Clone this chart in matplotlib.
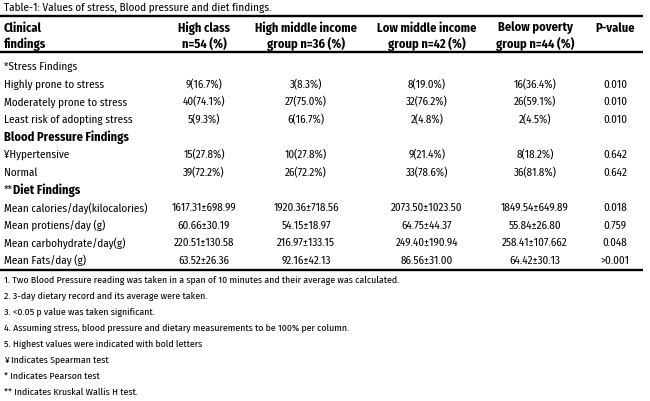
import matplotlib
matplotlib.use("Agg")
import matplotlib.pyplot as plt
from matplotlib import font_manager

# --- table content -------------------------------------------------------
title = "Table-1: Values of stress, Blood pressure and diet findings."

col_headers = [
    ("Clinical", "findings"),
    ("High class", "n=54 (%)"),
    ("High middle income", "group n=36 (%)"),
    ("Low middle income", "group n=42 (%)"),
    ("Below poverty", "group n=44 (%)"),
    ("P-value", ""),
]

# (row label, style of the label)
row_labels = [
    ("*Stress Findings", "plain"),
    ("Highly prone to stress", None),
    ("Moderately prone to stress", None),
    ("Least risk of adopting stress", None),
    ("Blood Pressure Findings", "bold"),
    ("¥Hypertensive", None),
    ("Normal", None),
    ("**Diet Findings", "bold"),
    ("Mean calories/day(kilocalories)", None),
    ("Mean protiens/day (g)", None),
    ("Mean carbohydrate/day(g)", None),
    ("Mean Fats/day (g)", None),
]

high_class = ["", "9(16.7%)", "40(74.1%)", "5(9.3%)", "", "15(27.8%)", "39(72.2%)", "",
              "1617.31±698.99", "60.66±30.19", "220.51±130.58", "63.52±26.36"]
high_middle = ["", "3(8.3%)", "27(75.0%)", "6(16.7%)", "", "10(27.8%)", "26(72.2%)", "",
               "1920.36±718.56", "54.15±18.97", "216.97±133.15", "92.16±42.13"]
low_middle = ["", "8(19.0%)", "32(76.2%)", "2(4.8%)", "", "9(21.4%)", "33(78.6%)", "",
              "2073.50±1023.50", "64.75±44.37", "249.40±190.94", "86.56±31.00"]
below_poverty = ["", "16(36.4%)", "26(59.1%)", "2(4.5%)", "", "8(18.2%)", "36(81.8%)", "",
                 "1849.54±649.89", "55.84±26.80", "258.41±107.662", "64.42±30.13"]
p_values = ["", "0.010", "0.010", "0.010", "", "0.642", "0.642", "",
            "0.018", "0.759", "0.048", ">0.001"]

footnotes = [
    "1. Two Blood Pressure reading was taken in a span of 10 minutes and their average was calculated.",
    "2. 3-day dietary record and its average were taken.",
    "3. <0.05 p value was taken significant.",
    "4. Assuming stress, blood pressure and dietary measurements to be 100% per column.",
    "5. Highest values were indicated with bold letters",
    "¥ Indicates Spearman test",
    "* Indicates Pearson test",
    "** Indicates Kruskal Wallis H test.",
]

# --- font: a condensed sans, closest to the original ----------------------
names = {f.name for f in font_manager.fontManager.ttflist}
family = "DejaVu Sans"
for cand in ["Fira Sans Condensed", "PT Sans Narrow", "Archivo Narrow",
             "Encode Sans Condensed", "Roboto Condensed", "Barlow Semi Condensed",
             "Liberation Sans"]:
    if cand in names:
        family = cand
        break
plt.rcParams["font.family"] = [family, "DejaVu Sans"]

fig = plt.figure(figsize=(6.5, 4.02), dpi=100)
ax = fig.add_axes([0, 0, 1, 1])
ax.set_xlim(0, 650)
ax.set_ylim(402, 0)
ax.axis("off")
renderer = fig.canvas.get_renderer()


def fit_size(text, target_px, weight="normal"):
    # font size that makes the text about target_px wide
    t = ax.text(0, 0, text, fontsize=10, fontweight=weight)
    w = t.get_window_extent(renderer).width
    t.remove()
    return 10 * target_px / w


fs_body = fit_size("Mean calories/day(kilocalories)", 143)
fs_head = fit_size("High middle income", 102, "bold")
fs_title = fit_size(title, 266)
fs_note = fit_size(footnotes[0], 397)

x_label = 4
col_x = [204, 306, 427, 535, 615]
columns = [high_class, high_middle, low_middle, below_poverty, p_values]

ax.text(x_label, 8, title, fontsize=fs_title, va="center", ha="left")

# rules
for y in (17, 53, 271):
    ax.plot([0, 643], [y, y], color="black", lw=1.7, solid_capstyle="butt")

# header
h1, h2 = 28, 44
ax.text(x_label, h1, col_headers[0][0], fontsize=fs_head, fontweight="bold", va="center")
ax.text(x_label, h2, col_headers[0][1], fontsize=fs_head, fontweight="bold", va="center")
for cx, (a, b) in zip(col_x, col_headers[1:]):
    ax.text(cx, h1, a, fontsize=fs_head, fontweight="bold", va="center", ha="center")
    if b:
        ax.text(cx, h2, b, fontsize=fs_head, fontweight="bold", va="center", ha="center")

# body
y0, dy = 67, 17.6
for i, (lab, kind) in enumerate(row_labels):
    y = y0 + i * dy
    if kind == "bold" and lab.startswith("**"):
        t = ax.text(x_label, y, "**", fontsize=fs_body, va="center")
        ax.annotate(lab[2:], xy=(1, 0.5), xycoords=t, va="center", ha="left",
                    fontsize=fs_head, fontweight="bold")
    elif kind == "bold":
        ax.text(x_label, y, lab, fontsize=fs_head, va="center", fontweight="bold")
    else:
        ax.text(x_label, y, lab, fontsize=fs_body, va="center")
    for cx, col in zip(col_x, columns):
        if col[i]:
            ax.text(cx, y, col[i], fontsize=fs_body, va="center", ha="center")

# footnotes
fy0, fdy = 280, 16
for j, note in enumerate(footnotes):
    ax.text(x_label, fy0 + j * fdy, note, fontsize=fs_note, va="center")

fig.savefig("out.png", dpi=100)
